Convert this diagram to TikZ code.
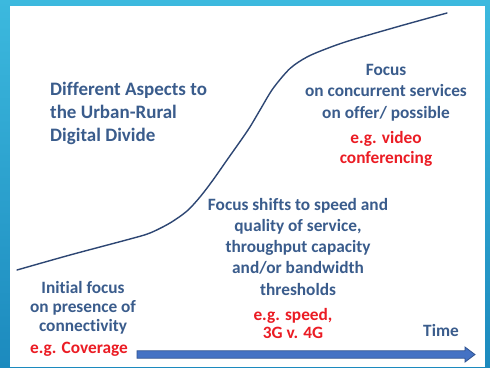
\documentclass[tikz,border=0pt]{standalone}
\usepackage{fontspec}
\setmainfont{Carlito}[Ligatures=NoCommon]
\definecolor{txtblue}{RGB}{58,92,140}
\definecolor{txtred}{RGB}{235,28,36}
\definecolor{curveblue}{RGB}{45,70,115}
\definecolor{arrowfill}{RGB}{68,114,196}
\definecolor{arrowedge}{RGB}{47,82,143}
\definecolor{bgtop}{RGB}{60,185,222}
\definecolor{bgbot}{RGB}{28,138,190}
\begin{document}
\begin{tikzpicture}[x=1pt,y=-1pt,
  txt/.style={font=\bfseries\fontsize{17.3}{#1}\selectfont, text=txtblue, align=center, inner sep=0pt, anchor=base},
  txt/.default=21.3,
  redtxt/.style={txt=#1, text=txtred},
  redtxt/.default=20,
  curve/.style={draw=curveblue, line width=1.4pt, line cap=round},
  timearrow/.style={fill=arrowfill, draw=arrowedge, line width=0.8pt, line join=miter}]
\useasboundingbox (0,0) rectangle (490,367);
\shade[top color=bgtop, bottom color=bgbot] (0,0) rectangle (490,367);
\fill[white] (10,6) rectangle (485,367);

% S-curve
\draw[curve] plot[smooth, tension=0.5] coordinates {(17,270) (70,255) (130,239) (150,233) (170,223) (187,211) (200,197) (213,180) (227,160) (248,130) (260,110) (273,88.5) (290,68.5) (307,57) (327,48.5) (350,40.5) (400,26) (447,13)};

% texts (anchor at the baseline of the last line)
\node[txt=23, font=\bfseries\fontsize{19}{23}\selectfont, align=left, anchor=base west] (title) at (50,141) {Different Aspects to\\the Urban-Rural\\Digital Divide};
\node[txt=21.5] (focus) at (386,118) {Focus\\on concurrent services\\on offer/ possible};
\node[redtxt=20] (video) at (386,163) {e.g. video\\conferencing};
\node[txt=21.2] (shift) at (298,295) {Focus shifts to speed and\\quality of service,\\throughput capacity\\and/or bandwidth\\thresholds};
\node[redtxt=17.6] (speed) at (293,338) {e.g. speed,\\3G v. 4G};
\node[txt=19.3] (initial) at (83,331.7) {Initial focus\\on presence of\\connectivity};
\node[redtxt] (coverage) at (79,353) {e.g. Coverage};
\node[txt] (time) at (441,336) {Time};

% time arrow
\coordinate (tstart) at (137,354.5);
\coordinate (tend) at (475,354.5);
\draw[timearrow] ([yshift=-3.7pt]tstart) -- ([xshift=-10pt,yshift=-3.7pt]tend) -- ([xshift=-10pt,yshift=-7.5pt]tend) -- (tend) -- ([xshift=-10pt,yshift=7.5pt]tend) -- ([xshift=-10pt,yshift=3.7pt]tend) -- ([yshift=3.7pt]tstart) -- cycle;
\end{tikzpicture}
\end{document}
